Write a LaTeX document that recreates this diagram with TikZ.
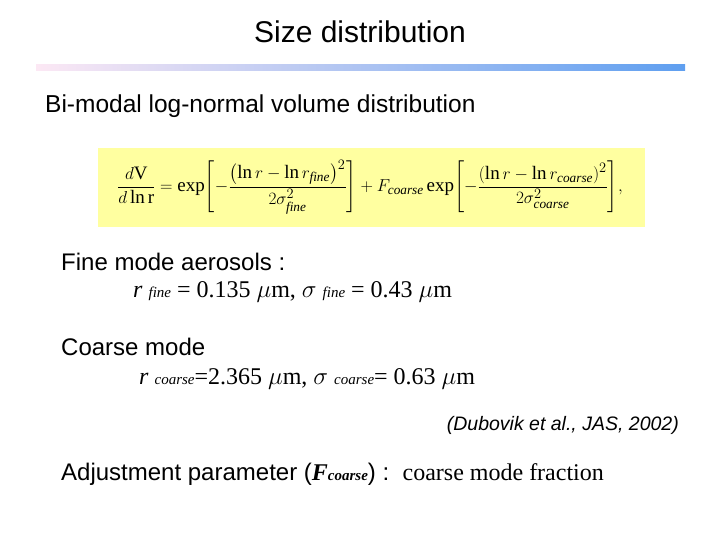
\documentclass[tikz,border=0pt]{standalone}
\usepackage{amsmath}
\usepackage{fontspec}
\setmainfont{Liberation Sans}
\setmathrm{Liberation Serif}
\newfontfamily\tnr{Liberation Serif}
\newcommand\subsz{\itshape\fontsize{15}{16}\selectfont}
\begin{document}
\begin{tikzpicture}[x=1pt,y=-1pt,
  txt/.style={anchor=base west,inner sep=0pt,font=\fontsize{24}{28}\selectfont}]
\useasboundingbox (0,0) rectangle (720,540);
\node[anchor=base,inner sep=0pt,font=\fontsize{30}{34}\selectfont] (title) at (360,43) {Size distribution};
\shade[left color={rgb,255:red,252;green,232;blue,244}, right color={rgb,255:red,95;green,159;blue,240}] (36,65) rectangle (685,71);
\node[txt,font=\fontsize{24.5}{28}\selectfont] (bi) at (45,113) {Bi-modal log-normal volume distribution};
\fill[fill={rgb,255:red,255;green,255;blue,160}] (98,148) rectangle (645,227);
\node[inner sep=0pt,font=\fontsize{19}{22}\selectfont] (eq) at (370,187)
 {$\dfrac{d\mathrm{V}}{d\ln \mathrm{r}}=\exp\!\left[-\dfrac{\left(\ln r-\ln r_{\mathit{fine}}\right)^2}{2\sigma^2_{\mathit{fine}}}\right]+F_{\mathit{coarse}}\exp\!\left[-\dfrac{\left(\ln r-\ln r_{\mathit{coarse}}\right)^2}{2\sigma^2_{\mathit{coarse}}}\right]\!,$};
\node[txt] (fine) at (61,270) {Fine mode aerosols :};
\node[txt,font=\fontsize{24}{28}\selectfont\tnr] (fv) at (133,297) {\textit{r} {\subsz fine} = 0.135 $\mu$m, $\sigma$ {\subsz fine} = 0.43 $\mu$m};
\node[txt] (coarse) at (61,355) {Coarse mode};
\node[txt,font=\fontsize{24}{28}\selectfont\tnr] (cv) at (139,384) {\textit{r} {\subsz coarse}=2.365 $\mu$m, $\sigma$ {\subsz coarse}= 0.63 $\mu$m};
\node[anchor=base east,inner sep=0pt,font=\fontsize{19.5}{22}\selectfont\itshape] (ref) at (679,430) {(Dubovik et al., JAS, 2002)};
\node[txt] (adj) at (61,480) {Adjustment parameter ({\tnr\bfseries\itshape F{\fontsize{15}{16}\selectfont coarse}}) :\ \ {\tnr coarse mode fraction}};
\end{tikzpicture}
\end{document}
